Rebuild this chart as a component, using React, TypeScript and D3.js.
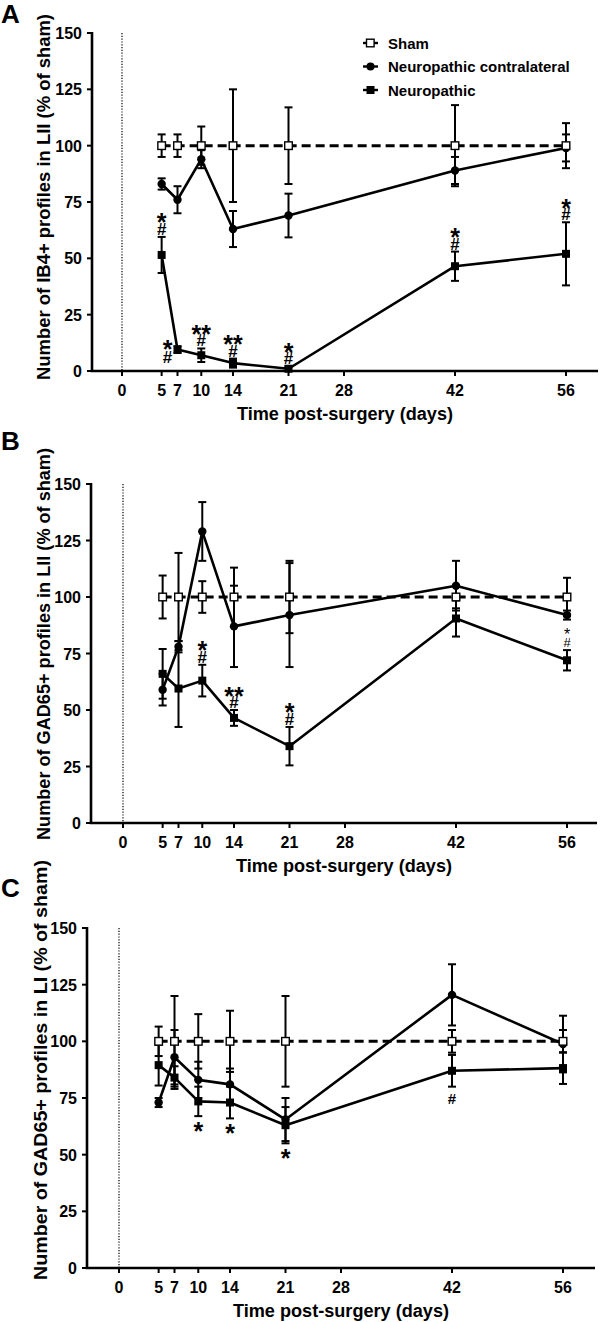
import React from "react";
import * as d3 from "d3";

// ---------- data ----------
const days = [5, 7, 10, 14, 21, 42, 56];
const xTicks = [0, 5, 7, 10, 14, 21, 28, 42, 56];
const yTicks = [0, 25, 50, 75, 100, 125, 150];
const seriesNames = ["Sham", "Neuropathic contralateral", "Neuropathic"];

// Panel A (IB4+, LII)
const shamA = [100, 100, 100, 100, 100, 100, 100];
const shamErrA = [5, 5, 8.5, 25, 17, 18, 10];
const contraA = [83, 76, 94, 63, 69, 89, 99];
const contraErrA = [2.5, 6, 4, 8, 9.7, 6, 6];
const neuroA = [51.5, 9.5, 7, 3.5, 1, 46.5, 52];
const neuroErrA = [8, 1.5, 3, 2, 1, 6.5, 14];

// Panel B (GAD65+, LII)
const shamB = [100, 100, 100, 100, 100, 100, 100];
const shamErrB = [9.5, 19.5, 7, 13, 16, 5, 8.5];
const contraB = [59, 78, 129, 87, 92, 105, 92];
const contraErrB = [7, 2.5, 13, 18, 23, 11, 2];
const neuroB = [66, 59.5, 63, 46.5, 34, 90.5, 72];
const neuroErrB = [11, 17, 7, 3.5, 8.5, 8, 4.5];

// Panel C (GAD65+, LI)
const shamC = [100, 100, 100, 100, 100, 100, 100];
const shamErrC = [6.5, 20, 12, 13.5, 20, 5, 5];
const contraC = [73, 93, 83, 81, 65.5, 120.5, 98.8];
const contraErrC = [2, 12, 8, 7, 9.5, 13.5, 12.5];
const neuroC = [89.5, 84, 73.5, 73, 63, 87, 88.2];
const neuroErrC = [9, 5, 6.5, 7, 8, 7, 7];

// significance marks on the Neuropathic series
const annA = [
  { day: 5, star: "*", hash: true, place: "above" },
  { day: 7, star: "*", hash: true, place: "left" },
  { day: 10, star: "**", hash: true, place: "above" },
  { day: 14, star: "**", hash: true, place: "above" },
  { day: 21, star: "*", hash: true, place: "above" },
  { day: 42, star: "*", hash: true, place: "above" },
  { day: 56, star: "*", hash: true, place: "above" },
];
const annB = [
  { day: 10, star: "*", hash: true, place: "above" },
  { day: 14, star: "**", hash: true, place: "above" },
  { day: 21, star: "*", hash: true, place: "above" },
  { day: 56, star: "*", hash: true, place: "aboveSmall" },
];
const annC = [
  { day: 10, star: "*", hash: false, place: "below" },
  { day: 14, star: "*", hash: false, place: "below" },
  { day: 21, star: "*", hash: false, place: "below" },
  { day: 42, star: "", hash: true, place: "below" },
];

const FONT = "'Liberation Sans', Arial, Helvetica, sans-serif";

const panels = [
  {
    letter: "A",
    yLabel: "Number of IB4+ profiles in LII (% of sham)",
    sham: shamA, shamErr: shamErrA, contra: contraA, contraErr: contraErrA, neuro: neuroA, neuroErr: neuroErrA,
    ann: annA, legend: true,
    L: { top: 33, bottom: 371, axisLeft: 92, axisRight: 598, day0: 122, day56: 566, labelX: 50, labelC: 197, labelLen: 366, letterY: 23 },
  },
  {
    letter: "B",
    yLabel: "Number of GAD65+ profiles in LII (% of sham)",
    sham: shamB, shamErr: shamErrB, contra: contraB, contraErr: contraErrB, neuro: neuroB, neuroErr: neuroErrB,
    ann: annB, legend: false,
    L: { top: 484, bottom: 823, axisLeft: 91, axisRight: 597, day0: 123, day56: 567, labelX: 50, labelC: 644, labelLen: 392, letterY: 450 },
  },
  {
    letter: "C",
    yLabel: "Number of GAD65+ profiles in LI (% of sham)",
    sham: shamC, shamErr: shamErrC, contra: contraC, contraErr: contraErrC, neuro: neuroC, neuroErr: neuroErrC,
    ann: annC, legend: false,
    L: { top: 928, bottom: 1268, axisLeft: 87, axisRight: 595, day0: 119, day56: 563, labelX: 47, labelC: 1070, labelLen: 420, letterY: 897 },
  },
];

function ErrorBars({ vals, errs, x, y }: any) {
  return (
    <g stroke="#000" strokeWidth={2} fill="none">
      {vals.map((v: number, i: number) => {
        const cx = x(days[i]);
        const y1 = y(v + errs[i]);
        const y2 = y(Math.max(0, v - errs[i]));
        return (
          <g key={i}>
            <line x1={cx} x2={cx} y1={y1} y2={y2} />
            <line x1={cx - 4} x2={cx + 4} y1={y1} y2={y1} />
            <line x1={cx - 4} x2={cx + 4} y1={y2} y2={y2} />
          </g>
        );
      })}
    </g>
  );
}

function Panel({ p }: any) {
  const L = p.L;
  const x = d3.scaleLinear().domain([0, 56]).range([L.day0, L.day56]);
  const y = d3.scaleLinear().domain([0, 150]).range([L.bottom, L.top]);
  const line = d3
    .line<number>()
    .x((_d, i) => x(days[i]))
    .y((d) => y(d));

  const annEls: any[] = [];
  p.ann.forEach((a: any, k: number) => {
    const i = days.indexOf(a.day);
    const cx = x(a.day);
    const v = p.neuro[i];
    const e = p.neuroErr[i];
    if (a.place === "above") {
      const hashBase = y(v + e) - 2;
      annEls.push(
        <text key={"a" + k} textAnchor="middle" fontWeight="bold">
          <tspan x={cx} y={hashBase - 3.5} fontSize={25}>{a.star}</tspan>
          <tspan x={cx} y={hashBase} fontSize={17}>#</tspan>
        </text>
      );
    } else if (a.place === "aboveSmall") {
      const hashBase = y(v + e) - 3;
      annEls.push(
        <text key={"a" + k} textAnchor="middle">
          <tspan x={cx} y={hashBase - 7} fontSize={16}>{a.star}</tspan>
          <tspan x={cx} y={hashBase} fontSize={13}>#</tspan>
        </text>
      );
    } else if (a.place === "left") {
      const cy = y(v);
      const lx = cx - 10;
      annEls.push(
        <text key={"a" + k} textAnchor="middle" fontWeight="bold">
          <tspan x={lx} y={cy + 8} fontSize={25}>{a.star}</tspan>
          <tspan x={lx} y={cy + 13} fontSize={17}>#</tspan>
        </text>
      );
    } else if (a.place === "below") {
      const yb = y(v - e);
      if (a.star) annEls.push(<text key={"s" + k} x={cx} y={yb + 24} textAnchor="middle" fontSize={25} fontWeight="bold">{a.star}</text>);
      if (a.hash) annEls.push(<text key={"h" + k} x={cx} y={yb + 17} textAnchor="middle" fontSize={15} fontWeight="bold">#</text>);
    }
  });

  return (
    <g fontFamily={FONT}>
      {/* panel letter */}
      <text x={1} y={L.letterY} fontSize={26} fontWeight="bold">{p.letter}</text>
      {/* y label */}
      <text
        transform={`translate(${L.labelX},${L.labelC}) rotate(-90)`}
        textAnchor="middle"
        fontSize={18.5}
        fontWeight="bold"
        textLength={L.labelLen}
        lengthAdjust="spacingAndGlyphs"
      >
        {p.yLabel}
      </text>
      {/* dotted line at day 0 */}
      <line x1={x(0)} x2={x(0)} y1={y(150)} y2={y(0)} stroke="#000" strokeWidth={1.2} strokeDasharray="1.2,1.6" />
      {/* axes */}
      <g stroke="#000" strokeWidth={2.6}>
        <line x1={L.axisLeft} x2={L.axisLeft} y1={y(150) - 1} y2={y(0)} />
        <line x1={L.axisLeft - 1.3} x2={L.axisRight} y1={y(0)} y2={y(0)} />
        {yTicks.map((t) => (
          <line key={t} x1={L.axisLeft - 5} x2={L.axisLeft} y1={y(t)} y2={y(t)} strokeWidth={2} />
        ))}
        {xTicks.map((t) => (
          <line key={t} x1={x(t)} x2={x(t)} y1={y(0)} y2={y(0) + 5} strokeWidth={2} />
        ))}
      </g>
      <g fontSize={16} fontWeight="bold">
        {yTicks.map((t) => (
          <text key={t} x={L.axisLeft - 10} y={y(t) + 6} textAnchor="end">{t}</text>
        ))}
        {xTicks.map((t) => (
          <text key={t} x={x(t)} y={y(0) + 25} textAnchor="middle">{t}</text>
        ))}
      </g>
      <text
        x={(L.axisLeft + L.axisRight) / 2}
        y={y(0) + 49}
        textAnchor="middle"
        fontSize={18}
        fontWeight="bold"
        textLength={216}
        lengthAdjust="spacingAndGlyphs"
      >
        Time post-surgery (days)
      </text>

      {/* lines */}
      <path d={line(p.contra) || ""} fill="none" stroke="#000" strokeWidth={2.6} strokeLinejoin="round" />
      <path d={line(p.neuro) || ""} fill="none" stroke="#000" strokeWidth={2.6} strokeLinejoin="round" />
      <path d={line(p.sham) || ""} fill="none" stroke="#000" strokeWidth={3} strokeDasharray="9,5" />

      <ErrorBars vals={p.neuro} errs={p.neuroErr} x={x} y={y} />
      <ErrorBars vals={p.contra} errs={p.contraErr} x={x} y={y} />
      <ErrorBars vals={p.sham} errs={p.shamErr} x={x} y={y} />

      {/* markers */}
      {p.neuro.map((v: number, i: number) => (
        <rect key={"n" + i} x={x(days[i]) - 4} y={y(v) - 4} width={8} height={8} fill="#000" />
      ))}
      {p.contra.map((v: number, i: number) => (
        <circle key={"c" + i} cx={x(days[i])} cy={y(v)} r={4.2} fill="#000" />
      ))}
      {p.sham.map((v: number, i: number) => (
        <rect key={"s" + i} x={x(days[i]) - 3.8} y={y(v) - 3.8} width={7.6} height={7.6} fill="#fff" stroke="#000" strokeWidth={1.4} />
      ))}

      {annEls}

      {p.legend && (
        <g>
          {seriesNames.map((name, k) => {
            const cy = 43 + k * 23.5;
            return (
              <g key={name}>
                <line x1={363} x2={378} y1={cy} y2={cy} stroke="#000" strokeWidth={2.4} />
                {k === 0 && <rect x={366.5} y={cy - 3.8} width={7.6} height={7.6} fill="#fff" stroke="#000" strokeWidth={1.4} />}
                {k === 1 && <circle cx={370.5} cy={cy} r={4} fill="#000" />}
                {k === 2 && <rect x={366.5} y={cy - 4} width={8} height={8} fill="#000" />}
                <text x={388} y={cy + 5.5} fontSize={15} fontWeight="bold">{name}</text>
              </g>
            );
          })}
        </g>
      )}
    </g>
  );
}

export default function App() {
  return (
    <svg
      width={600}
      height={1322}
      viewBox="0 0 600 1322"
      style={{ position: "absolute", left: 0, top: 0, background: "#fff" }}
    >
      <rect x={0} y={0} width={600} height={1322} fill="#fff" />
      {panels.map((p) => (
        <Panel key={p.letter} p={p} />
      ))}
    </svg>
  );
}
